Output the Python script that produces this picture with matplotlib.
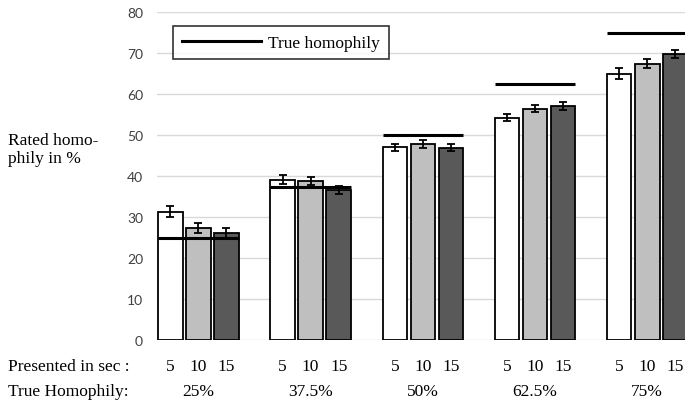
import matplotlib
matplotlib.use("Agg")
import matplotlib.pyplot as plt
import matplotlib.transforms as mtransforms
from matplotlib.lines import Line2D
import numpy as np

# Data
true_levels = ["25%", "37.5%", "50%", "62.5%", "75%"]
true_values = [25, 37.5, 50, 62.5, 75]
durations = ["5", "10", "15"]

rated_5s = [31.4, 39.2, 47.1, 54.3, 65.0]
rated_10s = [27.3, 38.8, 47.9, 56.5, 67.5]
rated_15s = [26.1, 36.7, 47.0, 57.1, 69.8]

err_5s = [1.4, 1.1, 0.85, 0.9, 1.3]
err_10s = [1.2, 1.0, 0.9, 0.9, 1.05]
err_15s = [1.3, 1.0, 0.8, 1.0, 1.05]

bar_colors = ["#ffffff", "#bfbfbf", "#595959"]

serif = ["Liberation Serif", "DejaVu Serif"]
sans = ["Lato", "DejaVu Sans"]
text_size = 12.5

fig = plt.figure(figsize=(6.85, 4.10), dpi=100)
ax = fig.add_axes([0.229, 0.1676, 0.771, 0.80])

x = np.arange(len(true_levels))
step = 0.25
width = 0.218
series = [(rated_5s, err_5s), (rated_10s, err_10s), (rated_15s, err_15s)]

for k, (vals, errs) in enumerate(series):
    pos = x + (k - 1) * step
    ax.bar(pos, vals, width=width, color=bar_colors[k], edgecolor="black",
           linewidth=1.3, zorder=2)
    ax.errorbar(pos, vals, yerr=errs, fmt="none", ecolor="black",
                elinewidth=1.3, capsize=3.2, capthick=1.3, zorder=3)

# True homophily reference lines spanning each group
half = step + width / 2
ax.hlines(true_values, x - half, x + half, colors="black", linewidth=2.2, zorder=4)

ax.set_xlim(-0.37, 4.336)
ax.set_ylim(0, 80)
ax.set_yticks(np.arange(0, 81, 10))
ax.set_xticks([])
ax.yaxis.grid(True, color="#d9d9d9", linewidth=1.0, zorder=0)
ax.set_axisbelow(True)
for s in ax.spines.values():
    s.set_visible(False)
ax.tick_params(axis="y", length=0, pad=10, labelsize=10, labelcolor="#404040")
for lbl in ax.get_yticklabels():
    lbl.set_fontfamily(sans)

# Row labels under the axis
trans = mtransforms.blended_transform_factory(ax.transData, ax.transAxes)
for i in x:
    for k, d in enumerate(durations):
        ax.text(i + (k - 1) * step, -0.078, d, transform=trans, ha="center",
                va="center", fontsize=text_size, family=serif, clip_on=False)
    ax.text(i, -0.155, true_levels[i], transform=trans, ha="center",
            va="center", fontsize=text_size, family=serif, clip_on=False)

fig.text(8 / 685, 1 - 367 / 410, "Presented in sec :", ha="left", va="center",
         fontsize=text_size, family=serif)
fig.text(8 / 685, 1 - 392 / 410, "True Homophily:", ha="left", va="center",
         fontsize=text_size, family=serif)
fig.text(8 / 685, 1 - 133 / 410, "Rated homo-\nphily in %", ha="left", va="top",
         fontsize=text_size, family=serif, linespacing=1.2)

# Legend
handle = Line2D([], [], color="black", linewidth=2.2)
leg = ax.legend([handle], ["True homophily"], loc="upper left",
                bbox_to_anchor=((173 - 157) / 528, (341.3 - 27) / 328),
                frameon=True, fancybox=False, edgecolor="black",
                prop={"family": serif, "size": text_size}, handlelength=4.55,
                borderpad=0.5, handletextpad=0.45, borderaxespad=0)
leg.get_frame().set_linewidth(1.2)

fig.savefig("out.png", dpi=100, facecolor="white")
